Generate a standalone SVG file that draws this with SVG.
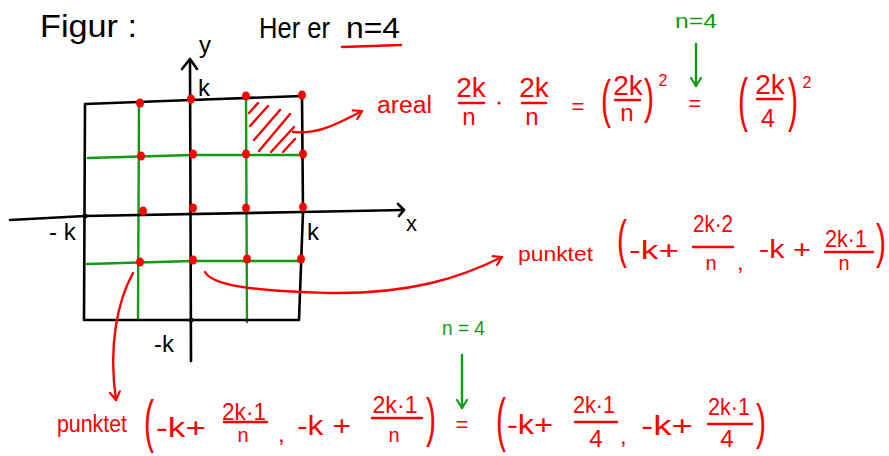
<svg xmlns="http://www.w3.org/2000/svg" width="889" height="456" viewBox="0 0 889 456">
<style>
text{font-family:"Liberation Sans",Arial,sans-serif}
.k{fill:#000}
.r{fill:#f00}
.g{fill:#139a13}
.m{text-anchor:middle}
.p{font-size:30px;text-anchor:middle;fill:#f00}
.bl{stroke:#000;stroke-width:2.6;fill:none;stroke-linecap:round;stroke-linejoin:round}
.gl{stroke:#139a13;stroke-width:2.4;fill:none;stroke-linecap:round}
.rl{stroke:#f00;stroke-width:2.4;fill:none;stroke-linecap:round;stroke-linejoin:round}
.gr{stroke:#139a13;stroke-width:2.4;fill:none;stroke-linecap:round;stroke-linejoin:round}
.bar{stroke:#f00;stroke-width:2.4;stroke-linecap:round}
.dot{fill:#f00}
</style>
<defs>
<marker id="ar" viewBox="0 0 12 12" refX="10" refY="6" markerWidth="12" markerHeight="12" markerUnits="userSpaceOnUse" orient="auto">
<path d="M2,1 L10,6 L2,11" fill="none" stroke="#f00" stroke-width="2.2" stroke-linecap="round" stroke-linejoin="round"/>
</marker>
<marker id="ag" viewBox="0 0 12 12" refX="10" refY="6" markerWidth="12" markerHeight="12" markerUnits="userSpaceOnUse" orient="auto">
<path d="M2,1 L10,6 L2,11" fill="none" stroke="#139a13" stroke-width="2.2" stroke-linecap="round" stroke-linejoin="round"/>
</marker>
</defs>
<rect width="889" height="456" fill="#fff"/>

<g id="title">
<text class="k" x="40" y="37" font-size="32" textLength="97" lengthAdjust="spacingAndGlyphs">Figur :</text>
<text class="k" x="259" y="38" font-size="30" textLength="71" lengthAdjust="spacingAndGlyphs">Her er</text>
<text class="k" x="346" y="38" font-size="30" textLength="54" lengthAdjust="spacingAndGlyphs">n=4</text>
<path class="rl" d="M342,47 L401,45"/>
</g>

<g id="grid">
<path class="gl" d="M139,103 L138,318"/>
<path class="gl" d="M246,97 L247,322"/>
<path class="gl" d="M88,158 L193,155 L300,155"/>
<path class="gl" d="M87,264 L193,261 L299,261"/>
<path class="bl" d="M85,104 L191,100 L302,96 L303,212 L299,320 L84,320 Z"/>
<path class="bl" d="M190,60 L191,361"/>
<path class="bl" d="M182,69 L190,59 L197,69"/>
<path class="bl" d="M10,220 L85,216 L302,212 L404,210"/>
<path class="bl" d="M398,204 L404,210 L399,216"/>
<circle cx="85" cy="216" r="2.5" fill="#000"/>
<circle cx="191" cy="320" r="2.5" fill="#000"/>
<g class="rl">
<path d="M249,113 L258,103"/>
<path d="M250,126 L268,106"/>
<path d="M254,140 L280,110"/>
<path d="M259,151 L290,114"/>
<path d="M271,152 L294,127"/>
<path d="M283,152 L295,139"/>
</g>
<ellipse class="dot" cx="140" cy="103" rx="4" ry="4.5"/>
<ellipse class="dot" cx="191" cy="99" rx="4" ry="4.5"/>
<ellipse class="dot" cx="246" cy="96" rx="4" ry="4.5"/>
<ellipse class="dot" cx="302" cy="95" rx="4" ry="4.5"/>
<ellipse class="dot" cx="141" cy="156" rx="4" ry="4.5"/>
<ellipse class="dot" cx="193" cy="154" rx="4" ry="4.5"/>
<ellipse class="dot" cx="246" cy="154" rx="4" ry="4.5"/>
<ellipse class="dot" cx="303" cy="154" rx="4" ry="4.5"/>
<ellipse class="dot" cx="143" cy="211" rx="4" ry="4.5"/>
<ellipse class="dot" cx="193" cy="208" rx="4" ry="4.5"/>
<ellipse class="dot" cx="246" cy="208" rx="4" ry="4.5"/>
<ellipse class="dot" cx="303" cy="207" rx="4" ry="4.5"/>
<ellipse class="dot" cx="140" cy="262" rx="4" ry="4.5"/>
<ellipse class="dot" cx="193" cy="260" rx="4" ry="4.5"/>
<ellipse class="dot" cx="247" cy="259" rx="4" ry="4.5"/>
<ellipse class="dot" cx="301" cy="259" rx="4" ry="4.5"/>
<text class="k" x="199" y="53" font-size="24">y</text>
<text class="k" x="198" y="96" font-size="24">k</text>
<text class="k" x="49" y="240" font-size="24">- k</text>
<text class="k" x="307" y="240" font-size="24">k</text>
<text class="k" x="406" y="231" font-size="22">x</text>
<text class="k" x="154" y="352" font-size="24">-k</text>
</g>

<g id="connectors">
<path class="rl" d="M293,132 C315,134 330,128 362,111" marker-end="url(#ar)"/>
<path class="rl" d="M205,272 C212,285 250,291 330,293 C410,294 460,278 502,257" marker-end="url(#ar)"/>
<path class="rl" d="M133,273 C118,300 108,345 116,400" marker-end="url(#ar)"/>
<path class="gr" d="M696,44 L696,86" marker-end="url(#ag)"/>
<path class="gr" d="M462,355 L462,408" marker-end="url(#ag)"/>
</g>

<g id="areal">
<text class="r" x="377" y="113" font-size="23" textLength="55" lengthAdjust="spacingAndGlyphs">areal</text>
<text class="r m" x="471" y="97" font-size="28">2k</text>
<line class="bar" x1="459" y1="103" x2="484" y2="103"/>
<text class="r m" x="469" y="125" font-size="24">n</text>
<circle class="dot" cx="499" cy="103" r="1.6"/>
<text class="r m" x="534" y="97" font-size="28">2k</text>
<line class="bar" x1="522" y1="103" x2="546" y2="103"/>
<text class="r m" x="532" y="125" font-size="24">n</text>
<text class="r m" x="578" y="114" font-size="22">=</text>
<text class="p" transform="translate(606,117) scale(1,1.7)">(</text>
<text class="r m" x="628" y="95" font-size="28">2k</text>
<line class="bar" x1="615" y1="100" x2="640" y2="100"/>
<text class="r m" x="627" y="121" font-size="24">n</text>
<text class="p" transform="translate(649,113) scale(1,1.6)">)</text>
<text class="r m" x="663" y="86" font-size="16">2</text>
<text class="g" x="675" y="28" font-size="20" textLength="42" lengthAdjust="spacingAndGlyphs">n=4</text>
<text class="r m" x="695" y="111" font-size="22">=</text>
<text class="p" transform="translate(743,120) scale(1,1.95)">(</text>
<text class="r m" x="770" y="94" font-size="28">2k</text>
<line class="bar" x1="757" y1="99" x2="782" y2="99"/>
<text class="r m" x="768" y="127" font-size="25">4</text>
<text class="p" transform="translate(793,120) scale(1,1.95)">)</text>
<text class="r m" x="807" y="88" font-size="16">2</text>
</g>

<g id="punktet1">
<text class="r" x="518" y="261" font-size="21" textLength="75" lengthAdjust="spacingAndGlyphs">punktet</text>
<text class="p" transform="translate(622,257) scale(1,1.7)">(</text>
<text class="r" x="629" y="259" font-size="26" textLength="50" lengthAdjust="spacingAndGlyphs">-k+</text>
<text class="r m" x="713" y="232" font-size="24" textLength="40" lengthAdjust="spacingAndGlyphs">2k·2</text>
<line class="bar" x1="693" y1="247" x2="733" y2="247"/>
<text class="r m" x="711" y="270" font-size="20">n</text>
<text class="r" x="737" y="270" font-size="24">,</text>
<text class="r" x="759" y="258" font-size="26" textLength="52" lengthAdjust="spacingAndGlyphs">-k +</text>
<text class="r m" x="846" y="247" font-size="24" textLength="42" lengthAdjust="spacingAndGlyphs">2k·1</text>
<line class="bar" x1="825" y1="252" x2="873" y2="252"/>
<text class="r m" x="844" y="270" font-size="20">n</text>
<text class="p" transform="translate(881,258) scale(1,1.6)">)</text>
</g>

<g id="punktet2">
<text class="r" x="57" y="432" font-size="23" textLength="70" lengthAdjust="spacingAndGlyphs">punktet</text>
<text class="p" transform="translate(149,441) scale(1,1.9)">(</text>
<text class="r" x="156" y="437" font-size="28" textLength="50" lengthAdjust="spacingAndGlyphs">-k+</text>
<text class="r m" x="244" y="420" font-size="24" textLength="44" lengthAdjust="spacingAndGlyphs">2k·1</text>
<line class="bar" x1="224" y1="422" x2="267" y2="422"/>
<text class="r m" x="243" y="442" font-size="20">n</text>
<text class="r" x="278" y="442" font-size="24">,</text>
<text class="r" x="297" y="435" font-size="28" textLength="54" lengthAdjust="spacingAndGlyphs">-k +</text>
<text class="r m" x="395" y="413" font-size="24" textLength="45" lengthAdjust="spacingAndGlyphs">2k·1</text>
<line class="bar" x1="372" y1="418" x2="422" y2="418"/>
<text class="r m" x="394" y="442" font-size="20">n</text>
<text class="p" transform="translate(431,436) scale(1,1.8)">)</text>
<text class="g" x="442" y="335" font-size="20" textLength="43" lengthAdjust="spacingAndGlyphs">n = 4</text>
<text class="r m" x="462" y="432" font-size="22">=</text>
<text class="p" transform="translate(501,440) scale(1,1.95)">(</text>
<text class="r" x="507" y="434" font-size="28" textLength="46" lengthAdjust="spacingAndGlyphs">-k+</text>
<text class="r m" x="594" y="413" font-size="24" textLength="42" lengthAdjust="spacingAndGlyphs">2k·1</text>
<line class="bar" x1="575" y1="422" x2="617" y2="422"/>
<text class="r m" x="596" y="447" font-size="24">4</text>
<text class="r" x="620" y="444" font-size="24">,</text>
<text class="r" x="641" y="435" font-size="28" textLength="52" lengthAdjust="spacingAndGlyphs">-k+</text>
<text class="r m" x="729" y="415" font-size="24" textLength="42" lengthAdjust="spacingAndGlyphs">2k·1</text>
<line class="bar" x1="708" y1="424" x2="752" y2="424"/>
<text class="r m" x="727" y="447" font-size="24">4</text>
<text class="p" transform="translate(761,439) scale(1,1.65)">)</text>
</g>
</svg>
